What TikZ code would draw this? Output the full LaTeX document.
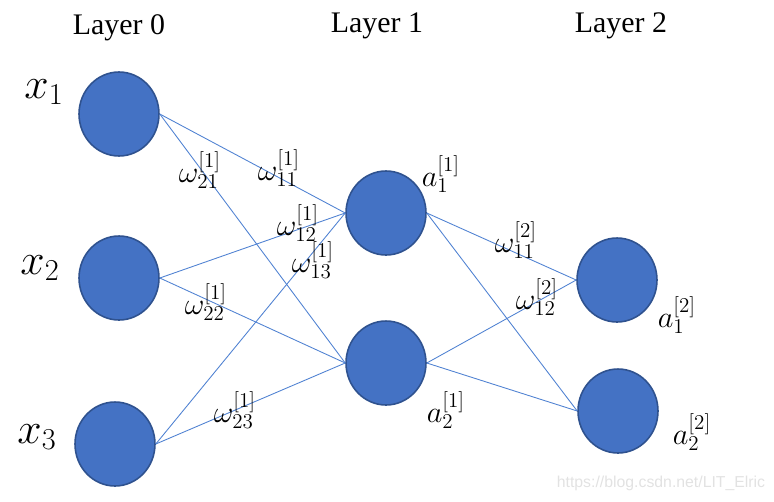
\documentclass[tikz,border=0pt]{standalone}
\usepackage{fontspec}
\setmainfont{Liberation Serif}
\setsansfont{Liberation Sans}
\usetikzlibrary{shapes.geometric}

\definecolor{nfill}{RGB}{68,114,196}
\definecolor{nborder}{RGB}{47,82,143}
\definecolor{wline}{RGB}{80,130,210}
\definecolor{wmark}{RGB}{226,226,226}

\tikzset{
  neuron/.style={ellipse, draw=nborder, fill=nfill, line width=0.9pt,
                 minimum width=1.6cm, minimum height=1.68cm, inner sep=0pt},
  wire/.style={draw=wline, line width=0.5pt},
  layername/.style={font=\fontsize{17}{19}\selectfont},
  wlabel/.style={font=\fontsize{16.5}{18}\selectfont, inner sep=0pt},
  xlabel/.style={font=\fontsize{25}{27}\selectfont, inner sep=0pt},
}

\begin{document}
\begin{tikzpicture}[x=0.02cm, y=-0.02cm]
\useasboundingbox (0,0) rectangle (774,501);

% layer titles
\node[layername] (L0) at (119,28) {Layer 0};
\node[layername] (L1) at (377,26) {Layer 1};
\node[layername] (L2) at (621,26) {Layer 2};

% neurons
\node[neuron] (x1) at (119,114) {};
\node[neuron] (x2) at (119,278) {};
\node[neuron] (x3) at (115,444) {};
\node[neuron] (h1) at (386,213) {};
\node[neuron] (h2) at (386,363) {};
\node[neuron] (o1) at (617,280) {};
\node[neuron] (o2) at (618,411) {};

% weights
\foreach \i in {x1,x2,x3}
  \foreach \j in {h1,h2}
    \draw[wire] (\i.east) -- (\j.west);
\foreach \i in {h1,h2}
  \foreach \j in {o1,o2}
    \draw[wire] (\i.east) -- (\j.west);

% inputs
\node[xlabel] (tx1) at (44,92) {$x_1$};
\node[xlabel] (tx2) at (40,268) {$x_2$};
\node[xlabel] (tx3) at (37,437) {$x_3$};

% weight labels
\node[wlabel] (w21) at (200,170) {$\omega_{21}^{[1]}$};
\node[wlabel] (w11) at (279,168) {$\omega_{11}^{[1]}$};
\node[wlabel] (w12) at (298,223) {$\omega_{12}^{[1]}$};
\node[wlabel] (w13) at (313,260) {$\omega_{13}^{[1]}$};
\node[wlabel] (w22) at (206,302) {$\omega_{22}^{[1]}$};
\node[wlabel] (w23) at (235,410) {$\omega_{23}^{[1]}$};
\node[wlabel] (v11) at (516,240) {$\omega_{11}^{[2]}$};
\node[wlabel] (v12) at (537,297) {$\omega_{12}^{[2]}$};

% activations
\node[wlabel] (a11) at (441,174) {$a_1^{[1]}$};
\node[wlabel] (a21) at (446,410) {$a_2^{[1]}$};
\node[wlabel] (a12) at (677,315) {$a_1^{[2]}$};
\node[wlabel] (a22) at (692,432) {$a_2^{[2]}$};

\node[font=\sffamily\fontsize{9}{10}\selectfont, text=wmark] (wm) at (661,483) {https://blog.csdn.net/LIT\_Elric};
\end{tikzpicture}
\end{document}
